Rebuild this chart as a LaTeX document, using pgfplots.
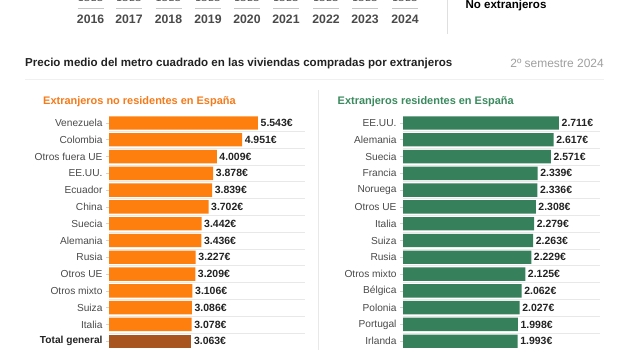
\documentclass[border=0pt]{standalone}
\usepackage{pgfplots}
\pgfplotsset{compat=1.18}
\usepackage{fontspec}
\setmainfont{Liberation Sans}
\definecolor{orangebar}{HTML}{FF7F0E}
\definecolor{brownbar}{HTML}{A85520}
\definecolor{greenbar}{HTML}{36805B}
\definecolor{orangetxt}{HTML}{F47A1A}
\definecolor{greentxt}{HTML}{3A8A5E}
\definecolor{labc}{HTML}{4A4A4A}
\definecolor{valc}{HTML}{222222}
\definecolor{gridc}{HTML}{E8E8E8}
\begin{document}
\begin{tikzpicture}
\path[use as bounding box] (0bp,0bp) rectangle (620bp,-350bp);
% ---- cut-off strip of previous chart ----
\foreach \yr/\xc in {2016/90.6,2017/129,2018/168.5,2019/208,2020/247,2021/286,2022/326,2023/365,2024/405}{
  \node[font=\bfseries\fontsize{12.3}{14}\selectfont, text=labc] at (\xc bp,-19bp) {\yr};
  \draw[gray!45, line width=0.6bp] (\xc bp-13bp,-8bp) -- (\xc bp+13bp,-8bp);
  \node[font=\fontsize{10}{12}\selectfont, text=labc, anchor=base] at (\xc bp-6.5bp,-1.8bp) {1S};
  \node[font=\fontsize{10}{12}\selectfont, text=labc, anchor=base] at (\xc bp+6.5bp,-1.8bp) {2S};
}
\draw[gray!25, line width=0.8bp] (447bp,0bp) -- (447bp,-34bp);
\node[font=\bfseries\fontsize{11.6}{14}\selectfont, anchor=west, text=black] at (462bp,-5.6bp) {No extranjeros};
% ---- title ----
\node[font=\bfseries\fontsize{11.6}{14}\selectfont, anchor=west, text=valc, inner sep=0pt] at (25bp,-63.5bp) {Precio medio del metro cuadrado en las viviendas compradas por extranjeros};
\node[font=\fontsize{12}{14}\selectfont, anchor=east, text=gray!75, inner sep=0pt] at (604bp,-63.5bp) {2º semestre 2024};
\draw[gray!12, line width=0.8bp] (25bp,-79bp) -- (604bp,-79bp);
% ---- panel separator ----
\draw[gray!18, line width=0.8bp] (318bp,-90bp) -- (318bp,-350bp);
% ---- subtitles ----
\node[font=\bfseries\fontsize{11}{14}\selectfont, anchor=west, text=orangetxt, inner sep=0pt] at (43bp,-101.7bp) {Extranjeros no residentes en España};
\node[font=\bfseries\fontsize{11}{14}\selectfont, anchor=west, text=greentxt, inner sep=0pt] at (337.5bp,-101.7bp) {Extranjeros residentes en España};
\pgfplotsset{
  panel/.style={
    scale only axis, height=235bp,
    xbar, bar width=13.4bp, bar shift=0pt,
    xmin=0, ymin=-0.5, ymax=13.5, y dir=reverse,
    enlargelimits=false,
    hide x axis,
    axis y line*=left,
    y axis line style={draw=none},
    ytick={0,...,13},
    minor ytick={0.5,1.5,...,12.5},
    yminorgrids=true,
    minor grid style={gridc, line width=0.6bp},
    minor tick length=0pt,
    major tick length=3bp,
    tick align=outside,
    major tick style={gray!35, line width=0.6bp},
    yticklabel style={font=\fontsize{10.2}{12}\selectfont, text=labc},
    point meta=x,
    nodes near coords={\pgfmathprintnumber[fixed,precision=0,1000 sep={.},assume math mode=true]{\pgfplotspointmeta}€},
    nodes near coords style={font=\bfseries\fontsize{10.5}{12}\selectfont, text=valc, inner sep=2.5bp},
    clip=false,
  }
}
% ---- left panel ----
\begin{axis}[panel,
  at={(109bp,-114.6bp)}, anchor=north west,
  width=196bp, xmax=7292,
  yticklabels={Venezuela,Colombia,Otros fuera UE,EE.UU.,Ecuador,China,Suecia,Alemania,Rusia,Otros UE,Otros mixto,Suiza,Italia,{\bfseries\color{valc}Total general}},
]
\addplot[fill=orangebar, draw=none] coordinates {
(5543,0) (4951,1) (4009,2) (3878,3) (3839,4) (3702,5) (3442,6)
(3436,7) (3227,8) (3209,9) (3106,10) (3086,11) (3078,12)};
\addplot[fill=brownbar, draw=none] coordinates {(3063,13)};
\end{axis}
% ---- right panel ----
\begin{axis}[panel,
  at={(403bp,-114.6bp)}, anchor=north west,
  width=197bp, xmax=3424,
  yticklabels={EE.UU.,Alemania,Suecia,Francia,Noruega,Otros UE,Italia,Suiza,Rusia,Otros mixto,Bélgica,Polonia,Portugal,Irlanda},
]
\addplot[fill=greenbar, draw=none] coordinates {
(2711,0) (2617,1) (2571,2) (2339,3) (2336,4) (2308,5) (2279,6)
(2263,7) (2229,8) (2125,9) (2062,10) (2027,11) (1998,12) (1993,13)};
\end{axis}
\end{tikzpicture}
\end{document}
